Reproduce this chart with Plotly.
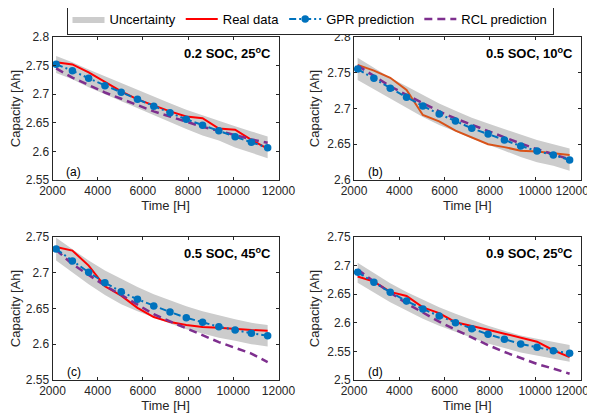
import plotly.graph_objects as go

# ---------------- data ----------------
time_h = [2160, 2880, 3600, 4320, 5040, 5760, 6480, 7200, 7920, 8640, 9360, 10080, 10800, 11520]

x_ticks = [2000, 4000, 6000, 8000, 10000, 12000]
x_tick_labels = ["2000", "4000", "6000", "8000", "10000", "12000"]
# right-column panels: last label kept inside the page as in the reference
x_tick_labels_right = ["2000", "4000", "6000", "8000", "10000", "12000\u00a0\u00a0\u00a0\u00a0\u00a0"]

# (a) 0.2 SOC, 25 C
real_a = [2.756, 2.752, 2.738, 2.722, 2.705, 2.691, 2.680, 2.670, 2.661, 2.658, 2.640, 2.638, 2.620, 2.605]
gpr_a = [2.7523, 2.7411, 2.7278, 2.7149, 2.7033, 2.6911, 2.6789, 2.6675, 2.6561, 2.6456, 2.6362, 2.6257, 2.6159, 2.6065]
rcl_a = [2.745, 2.729, 2.716, 2.703, 2.692, 2.681, 2.670, 2.661, 2.652, 2.643, 2.636, 2.628, 2.621, 2.615]
upper_a = [2.767, 2.756, 2.743, 2.731, 2.719, 2.707, 2.695, 2.684, 2.673, 2.663, 2.654, 2.644, 2.635, 2.626]
lower_a = [2.737, 2.726, 2.712, 2.699, 2.687, 2.675, 2.663, 2.651, 2.639, 2.628, 2.619, 2.607, 2.597, 2.588]
yticks_a = [2.55, 2.6, 2.65, 2.7, 2.75, 2.8]
ylabels_a = ["2.55", "2.6", "2.65", "2.7", "2.75", "2.8"]

# (b) 0.5 SOC, 10 C
real_b = [2.761, 2.753, 2.743, 2.726, 2.691, 2.682, 2.669, 2.660, 2.650, 2.646, 2.641, 2.640, 2.637, 2.635]
gpr_b = [2.7552, 2.7422, 2.7283, 2.7157, 2.7035, 2.6923, 2.6825, 2.6723, 2.6643, 2.6560, 2.6476, 2.6406, 2.6350, 2.6280]
rcl_b = [2.760, 2.745, 2.731, 2.719, 2.707, 2.696, 2.686, 2.677, 2.668, 2.659, 2.651, 2.643, 2.636, 2.629]
upper_b = [2.771, 2.757, 2.743, 2.731, 2.719, 2.707, 2.697, 2.687, 2.679, 2.671, 2.663, 2.656, 2.650, 2.644]
lower_b = [2.740, 2.727, 2.713, 2.701, 2.688, 2.677, 2.668, 2.658, 2.649, 2.641, 2.632, 2.625, 2.620, 2.613]
yticks_b = [2.6, 2.65, 2.7, 2.75, 2.8]
ylabels_b = ["2.6", "2.65", "2.7", "2.75", "2.8"]

# (c) 0.5 SOC, 45 C
real_c = [2.736, 2.731, 2.710, 2.681, 2.668, 2.651, 2.638, 2.631, 2.627, 2.624, 2.623, 2.621, 2.620, 2.619]
gpr_c = [2.7332, 2.7164, 2.7006, 2.6861, 2.6735, 2.6629, 2.6535, 2.6451, 2.6371, 2.6307, 2.6245, 2.6199, 2.6153, 2.6120]
rcl_c = [2.732, 2.712, 2.697, 2.682, 2.669, 2.655, 2.642, 2.632, 2.622, 2.612, 2.603, 2.595, 2.587, 2.575]
upper_c = [2.749, 2.733, 2.717, 2.703, 2.691, 2.680, 2.670, 2.661, 2.653, 2.646, 2.640, 2.635, 2.630, 2.627]
lower_c = [2.717, 2.700, 2.684, 2.669, 2.656, 2.646, 2.637, 2.629, 2.621, 2.615, 2.609, 2.605, 2.600, 2.597]
yticks_c = [2.55, 2.6, 2.65, 2.7, 2.75]
ylabels_c = ["2.55", "2.6", "2.65", "2.7", "2.75"]

# (d) 0.9 SOC, 25 C
real_d = [2.681, 2.672, 2.654, 2.647, 2.627, 2.617, 2.601, 2.595, 2.588, 2.581, 2.574, 2.567, 2.552, 2.540]
gpr_d = [2.6883, 2.6708, 2.6533, 2.6381, 2.6241, 2.6119, 2.6002, 2.5898, 2.5799, 2.5711, 2.5630, 2.5572, 2.5512, 2.5466]
rcl_d = [2.693, 2.672, 2.653, 2.634, 2.618, 2.602, 2.588, 2.574, 2.561, 2.549, 2.538, 2.528, 2.520, 2.511]
upper_d = [2.705, 2.687, 2.669, 2.654, 2.640, 2.627, 2.616, 2.605, 2.595, 2.586, 2.578, 2.572, 2.566, 2.561]
lower_d = [2.670, 2.653, 2.636, 2.621, 2.607, 2.595, 2.584, 2.574, 2.564, 2.556, 2.548, 2.543, 2.537, 2.532]
yticks_d = [2.5, 2.55, 2.6, 2.65, 2.7, 2.75]
ylabels_d = ["2.5", "2.55", "2.6", "2.65", "2.7", "2.75"]

panel_titles = ["0.2 SOC, 25<sup>o</sup>C", "0.5 SOC, 10<sup>o</sup>C",
                "0.5 SOC, 45<sup>o</sup>C", "0.9 SOC, 25<sup>o</sup>C"]
panel_letters = ["(a)", "(b)", "(c)", "(d)"]

# ---------------- styling ----------------
WIN_W, WIN_H = 595, 420
OFF = 8  # default page body margin
W, H = WIN_W - OFF, WIN_H - OFF
FONT = "Liberation Sans, Arial, sans-serif"
AXC = "#262626"
band_color = "rgb(204,204,204)"
gpr_color = "#0072BD"
rcl_color = "#7E2F8E"
real_colors = ["#FF0000", "#D95319", "#FF0000", "#FF0000"]

# pixel boxes (in window coordinates) of each plot area (left, right, top, bottom)
boxes = [(52.5, 278.5, 37, 180), (354, 580.5, 37, 180),
         (52.5, 278.5, 237, 380), (354, 580.5, 237, 380)]

panels = [
    (real_a, gpr_a, rcl_a, upper_a, lower_a, yticks_a, ylabels_a),
    (real_b, gpr_b, rcl_b, upper_b, lower_b, yticks_b, ylabels_b),
    (real_c, gpr_c, rcl_c, upper_c, lower_c, yticks_c, ylabels_c),
    (real_d, gpr_d, rcl_d, upper_d, lower_d, yticks_d, ylabels_d),
]


def px_x(v):
    return (v - OFF) / W


def px_y(v):
    return 1 - (v - OFF) / H


fig = go.Figure()
layout = dict(
    width=W, height=H,
    margin=dict(l=0, r=0, t=0, b=0, autoexpand=False),
    paper_bgcolor="white", plot_bgcolor="white",
    font=dict(family=FONT, size=12, color="black"),
    showlegend=True,
    legend=dict(orientation="h", x=px_x(310), y=px_y(19), xanchor="center", yanchor="middle",
                bgcolor="white", bordercolor=AXC, borderwidth=1,
                font=dict(family=FONT, size=13, color="black"),
                itemwidth=32, tracegroupgap=0),
)
annotations = []

for i, (real, gpr, rcl, up, lo, yt, yl) in enumerate(panels):
    n = "" if i == 0 else str(i + 1)
    xr, yr = "x" + n, "y" + n
    first = i == 0
    fig.add_trace(go.Scatter(
        x=time_h + time_h[::-1], y=up + lo[::-1], fill="toself", fillcolor=band_color,
        line=dict(width=0, color=band_color), mode="lines", name="Uncertainty",
        showlegend=first, legendrank=1, xaxis=xr, yaxis=yr, hoverinfo="skip"))
    fig.add_trace(go.Scatter(
        x=time_h, y=real, mode="lines", line=dict(color=real_colors[i], width=2),
        name="Real data", showlegend=first, legendrank=2, xaxis=xr, yaxis=yr))
    fig.add_trace(go.Scatter(
        x=time_h, y=rcl, mode="lines", line=dict(color=rcl_color, width=2.5, dash="8px,5px"),
        name="RCL prediction", showlegend=first, legendrank=4, xaxis=xr, yaxis=yr))
    fig.add_trace(go.Scatter(
        x=time_h, y=gpr, mode="lines+markers",
        line=dict(color=gpr_color, width=2, dash="7px,3px,2px,3px"),
        marker=dict(color=gpr_color, size=7.5, symbol="circle"),
        name="GPR prediction", showlegend=first, legendrank=3, xaxis=xr, yaxis=yr))

    l, r, t, b = boxes[i]
    axis_common = dict(showline=True, linecolor=AXC, linewidth=1, mirror="ticks",
                       ticks="inside", ticklen=3, tickcolor=AXC, showgrid=False, zeroline=False,
                       automargin=False, ticklabeloverflow="allow", tickangle=0,
                       tickfont=dict(family=FONT, size=12, color=AXC))
    layout["xaxis" + n] = dict(
        axis_common, domain=[px_x(l), px_x(r)], anchor=yr, range=[2000, 12000],
        tickvals=x_ticks, ticktext=(x_tick_labels if i % 2 == 0 else x_tick_labels_right),
        title=dict(text="Time [H]", font=dict(family=FONT, size=13, color=AXC), standoff=2))
    layout["yaxis" + n] = dict(
        axis_common, domain=[px_y(b), px_y(t)], anchor=xr, range=[yt[0], yt[-1]],
        tickvals=yt, ticktext=yl,
        title=dict(text="Capacity [Ah]", font=dict(family=FONT, size=13, color=AXC), standoff=4))

    annotations.append(dict(text="<b>" + panel_titles[i] + "</b>", xref=xr + " domain", yref=yr + " domain",
                            x=1, y=1, xanchor="right", yanchor="middle", xshift=-6, yshift=-16,
                            showarrow=False, font=dict(family=FONT, size=13, color="black")))
    annotations.append(dict(text=panel_letters[i], xref=xr + " domain", yref=yr + " domain",
                            x=0, y=0, xanchor="center", yanchor="middle", xshift=21, yshift=8,
                            showarrow=False, font=dict(family=FONT, size=12, color="black")))

layout["annotations"] = annotations
fig.update_layout(**layout)
fig.write_html("out.html")
